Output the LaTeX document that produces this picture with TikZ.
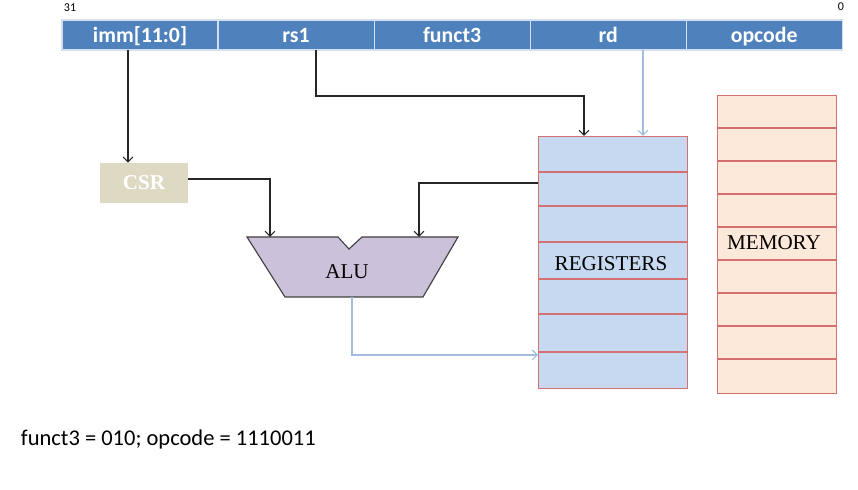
\documentclass[tikz,border=0pt]{standalone}
\usepackage{fontspec}
\setmainfont{Liberation Serif}
\setsansfont{Carlito}
\usetikzlibrary{arrows.meta, calc, positioning}
\definecolor{fieldblue}{RGB}{79,129,189}
\definecolor{regblue}{RGB}{198,217,241}
\definecolor{memorange}{RGB}{253,233,217}
\definecolor{cellred}{RGB}{212,112,112}
\definecolor{csrgray}{RGB}{221,217,195}
\definecolor{alupurple}{RGB}{204,193,218}
\definecolor{wireblue}{RGB}{160,188,222}

\tikzset{
  field/.style={draw=white!75!fieldblue, line width=0.8pt, fill=fieldblue, text=white,
    font=\sffamily\bfseries\fontsize{15.5}{17}\selectfont, text height=14pt, text depth=3pt,
    minimum width=3.9cm, minimum height=0.75cm, inner sep=0pt, outer sep=0pt},
  wire/.style={line width=0.8pt, black!85, -{Straight Barb[length=3.5pt,width=7pt]}},
  bluewire/.style={wire, wireblue},
  cell/.style={draw=cellred, line width=0.8pt, inner sep=0pt, anchor=north west},
  label/.style={font=\fontsize{15}{17}\selectfont}
}

\begin{document}
\begin{tikzpicture}[x=0.025cm, y=-0.025cm]
    \useasboundingbox (0,0) rectangle (858,490);

    % Instruction fields
    \node[field, anchor=north west] (imm) at (62,20) {imm[11:0]};
    \node[field, right=0pt of imm] (rs1) {rs1};
    \node[field, right=0pt of rs1] (funct3) {funct3};
    \node[field, right=0pt of funct3] (rd) {rd};
    \node[field, right=0pt of rd] (opcode) {opcode};
    \node[font=\sffamily\fontsize{8.5}{9}\selectfont] (msb) at (70,8) {31};
    \node[font=\sffamily\fontsize{8.5}{9}\selectfont] (lsb) at (841,7) {0};

    % CSR
    \node[fill=csrgray, text=white, font=\bfseries\fontsize{15}{17}\selectfont,
      minimum width=2.2cm, minimum height=1cm, inner sep=0pt] (csr) at (144,183) {CSR};

    % ALU
    \draw[black!75, line width=0.8pt, fill=alupurple] (247,237) -- (338,237) -- (349,249)
      -- (362,237) -- (458,237) -- (423,297) -- (285,297) -- cycle;
    \node[label] (alu) at (347,272) {ALU};
    \coordinate (aluinA) at (270,237);
    \coordinate (aluinB) at (419,237);
    \coordinate (aluout) at (352,297);

    % Registers
    \node[cell, fill=regblue, minimum width=3.725cm, minimum height=6.3cm] (regs) at (538,136) {};
    \foreach \y in {172,206,242,279,314,352}
        \draw[cellred, line width=0.8pt] (538,\y) -- (687,\y);
    \node[label] (regtxt) at (611,264) {REGISTERS};

    % Memory
    \node[cell, fill=memorange, minimum width=2.975cm, minimum height=7.45cm] (mem) at (717,95) {};
    \foreach \y in {128,161,194,227,260,293,326,359}
        \draw[cellred, line width=0.8pt] (717,\y) -- (836,\y);
    \node[label] (memtxt) at (774,243) {MEMORY};

    % Taps
    \coordinate (immx) at (128,0);
    \coordinate (rs1x) at (316,0);
    \coordinate (rdx) at (643,0);
    \coordinate (regx) at (584,0);
    \coordinate (readrow) at (0,183);
    \coordinate (writerow) at (0,355);

    % Connectors
    \draw[wire] (imm.south -| immx) -- (csr.north -| immx);
    \draw[wire] (rs1.south -| rs1x) -- ++(0,46) -| (regs.north -| regx);
    \draw[bluewire] (rd.south -| rdx) -- (regs.north -| rdx);
    \draw[wire] (csr.east |- 0,179) -| (aluinA);
    \draw[wire] (regs.west |- readrow) -| (aluinB);
    \draw[bluewire] (aluout) |- (regs.west |- writerow);

    % Note
    \node[anchor=west, font=\sffamily\fontsize{16}{18}\selectfont] (note) at (16,440)
      {funct3 = 010; opcode = 1110011};
\end{tikzpicture}
\end{document}
